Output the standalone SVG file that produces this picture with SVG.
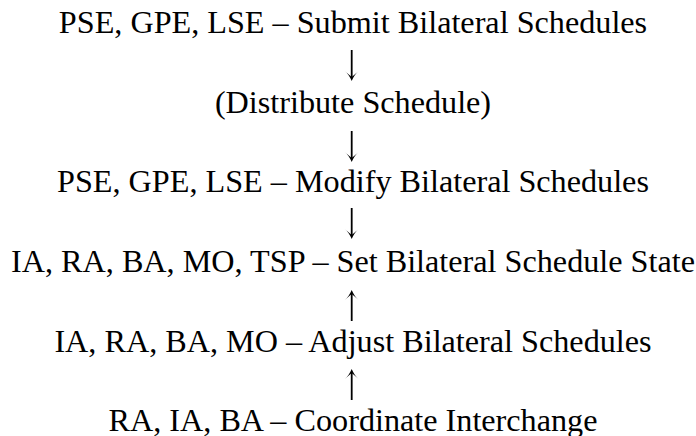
<svg xmlns="http://www.w3.org/2000/svg" width="696" height="436" viewBox="0 0 696 436">
<style>
text{font-family:'Liberation Serif','Times New Roman',serif;font-size:32.2px;fill:#000;text-anchor:middle}
.s{stroke:#000;stroke-width:1.8;fill:none}
.h{fill:#000;stroke:none}
</style>
<rect width="696" height="436" fill="#fff"/>
<g id="connectors">
<g id="a1" transform="translate(351.7,50)"><path class="s" d="M0,0 V28"/><path class="h" d="M-7,21 Q-3,24 0,31 Q3,24 7,21 L0,27 Z"/></g>
<g id="a2" transform="translate(351.7,131)"><path class="s" d="M0,0 V28"/><path class="h" d="M-7,21 Q-3,24 0,31 Q3,24 7,21 L0,27 Z"/></g>
<g id="a3" transform="translate(351.7,208)"><path class="s" d="M0,0 V28"/><path class="h" d="M-7,21 Q-3,24 0,31 Q3,24 7,21 L0,27 Z"/></g>
<g id="a4" transform="translate(351.7,321) scale(1,-1)"><path class="s" d="M0,0 V28"/><path class="h" d="M-7,21 Q-3,24 0,31 Q3,24 7,21 L0,27 Z"/></g>
<g id="a5" transform="translate(351.7,400) scale(1,-1)"><path class="s" d="M0,0 V28"/><path class="h" d="M-7,21 Q-3,24 0,31 Q3,24 7,21 L0,27 Z"/></g>
</g>
<g id="n1"><text x="353" y="33">PSE, GPE, LSE – Submit Bilateral Schedules</text></g>
<g id="n2"><text x="353" y="112.5">(Distribute Schedule)</text></g>
<g id="n3"><text x="353" y="191.5">PSE, GPE, LSE – Modify Bilateral Schedules</text></g>
<g id="n4"><text x="353" y="272">IA, RA, BA, MO, TSP – Set Bilateral Schedule State</text></g>
<g id="n5"><text x="353" y="351.5">IA, RA, BA, MO – Adjust Bilateral Schedules</text></g>
<g id="n6"><text x="353" y="430.5">RA, IA, BA – Coordinate Interchange</text></g>
</svg>
